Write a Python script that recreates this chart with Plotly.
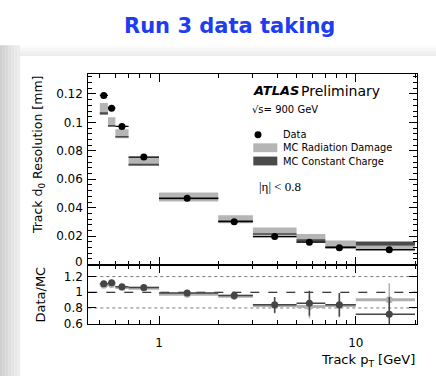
import plotly.graph_objects as go

W, H = 436, 383

# ---------------- data ----------------
bin_lo = [0.5, 0.55, 0.6, 0.7, 1.0, 2.0, 3.0, 5.0, 7.0, 10.0]
bin_hi = [0.55, 0.6, 0.7, 1.0, 2.0, 3.0, 5.0, 7.0, 10.0, 20.0]
pt_center = [0.524, 0.574, 0.648, 0.837, 1.39, 2.41, 3.87, 5.81, 8.25, 14.8]

data_res = [0.119, 0.110, 0.0972, 0.0756, 0.0466, 0.0302, 0.0197, 0.0157, 0.0119, 0.0105]
rd_res = [0.1096, 0.1006, 0.0920, 0.0727, 0.0475, 0.0319, 0.0226, 0.0185, 0.0144, 0.0113]
rd_err = [0.0040, 0.0031, 0.0032, 0.0033, 0.0032, 0.0028, 0.0035, 0.0030, 0.0025, 0.0018]
cc_res = [0.1063, 0.0975, 0.0899, 0.0703, 0.0465, 0.0305, 0.0215, 0.0168, 0.0122, 0.0148]
cc_err = [0.0008, 0.0006, 0.0006, 0.0006, 0.0006, 0.0006, 0.0006, 0.0011, 0.0008, 0.0015]

ratio_cc = [1.11, 1.12, 1.07, 1.06, 0.99, 0.96, 0.84, 0.86, 0.84, 0.72]
ratio_cc_err = [0.01, 0.01, 0.01, 0.01, 0.03, 0.05, 0.10, 0.16, 0.15, 0.22]
ratio_rd = [1.09, 1.10, 1.06, 1.05, 0.975, 0.95, 0.83, 0.82, 0.83, 0.905]
ratio_rd_err = [0.01, 0.01, 0.01, 0.01, 0.03, 0.05, 0.10, 0.15, 0.15, 0.21]

main_yticks = [0.02, 0.04, 0.06, 0.08, 0.1, 0.12]
main_yticklabels = ["0.02", "0.04", "0.06", "0.08", "0.1", "0.12"]
ratio_yticks = [0.6, 0.8, 1.0, 1.2]
ratio_yticklabels = ["0.6", "0.8", "1", "1.2"]
x_major = [1, 10]
x_major_labels = ["1", "10"]
x_minor = [0.5, 0.6, 0.7, 0.8, 0.9, 2, 3, 4, 5, 6, 7, 8, 9, 20]
ratio_dotted = [0.8, 1.2]
ratio_dashed = [1.0]

# ---------------- colours / fonts ----------------
C_RD = "#b5b5b5"
C_CC = "#4a4a4a"
C_RATIO_RD = "#b0b0b0"
C_RATIO_CC = "#454545"
FONT = "DejaVu Sans"


def px_x(x):
    return x / W


def px_y(y):
    return 1 - y / H


def boxes(lo, hi, val, err):
    xs, ys = [], []
    for a, b, v, e in zip(lo, hi, val, err):
        xs += [a, b, b, a, a, None]
        ys += [v - e, v - e, v + e, v + e, v - e, None]
    return xs, ys


fig = go.Figure()

# MC radiation damage boxes
xs, ys = boxes(bin_lo, bin_hi, rd_res, rd_err)
fig.add_trace(go.Scatter(x=xs, y=ys, fill="toself", fillcolor=C_RD, mode="lines",
                         line=dict(width=0, color=C_RD), name="MC Radiation Damage",
                         hoverinfo="skip", xaxis="x", yaxis="y"))
# MC constant charge boxes
xs, ys = boxes(bin_lo, bin_hi, cc_res, cc_err)
fig.add_trace(go.Scatter(x=xs, y=ys, fill="toself", fillcolor=C_CC, mode="lines",
                         line=dict(width=0, color=C_CC), name="MC Constant Charge",
                         hoverinfo="skip", xaxis="x", yaxis="y"))
# Data
fig.add_trace(go.Scatter(
    x=pt_center, y=data_res, mode="markers", name="Data",
    marker=dict(color="black", size=7),
    error_x=dict(type="data", symmetric=False,
                 array=[h - c for h, c in zip(bin_hi, pt_center)],
                 arrayminus=[c - l for c, l in zip(pt_center, bin_lo)],
                 color="black", thickness=1.2, width=0),
    xaxis="x", yaxis="y"))

# Ratio: data / radiation damage (light)
fig.add_trace(go.Scatter(
    x=pt_center, y=ratio_rd, mode="markers", name="Data/RD",
    marker=dict(color=C_RATIO_RD, size=7),
    error_x=dict(type="data", symmetric=False,
                 array=[h - c for h, c in zip(bin_hi, pt_center)],
                 arrayminus=[c - l for c, l in zip(pt_center, bin_lo)],
                 color=C_RATIO_RD, thickness=3, width=0),
    error_y=dict(type="data", array=ratio_rd_err, color=C_RATIO_RD, thickness=1.5, width=0),
    xaxis="x2", yaxis="y2"))
# Ratio: data / constant charge (dark)
fig.add_trace(go.Scatter(
    x=pt_center, y=ratio_cc, mode="markers", name="Data/CC",
    marker=dict(color=C_RATIO_CC, size=7),
    error_x=dict(type="data", symmetric=False,
                 array=[h - c for h, c in zip(bin_hi, pt_center)],
                 arrayminus=[c - l for c, l in zip(pt_center, bin_lo)],
                 color=C_RATIO_CC, thickness=1.5, width=0),
    error_y=dict(type="data", array=ratio_cc_err, color=C_RATIO_CC, thickness=1.5, width=0),
    xaxis="x2", yaxis="y2"))

x_dom = [px_x(88.3), px_x(416.7)]
x_range = [-0.3595, 1.3096]

axis_common = dict(showline=True, linecolor="black", linewidth=1, mirror="ticks",
                   ticks="inside", tickcolor="black", showgrid=False, zeroline=False,
                   tickfont=dict(family=FONT, size=12, color="black"))

fig.update_layout(
    width=W, height=H,
    margin=dict(l=0, r=0, t=0, b=0, pad=0),
    paper_bgcolor="white", plot_bgcolor="white",
    showlegend=False,
    xaxis=dict(type="log", domain=x_dom, range=x_range, anchor="y",
               tickvals=x_major, ticktext=x_major_labels, ticklen=8,
               showticklabels=False,
               minor=dict(tickvals=x_minor, ticks="inside", ticklen=4, tickcolor="black"),
               **axis_common),
    yaxis=dict(domain=[px_y(269.5), px_y(75)], range=[0, 0.1343], anchor="x",
               tickvals=main_yticks, ticktext=main_yticklabels, ticklen=8,
               ticklabelstandoff=2,
               minor=dict(dtick=0.004, tick0=0, ticks="inside", ticklen=4, tickcolor="black"),
               **axis_common),
    xaxis2=dict(type="log", domain=x_dom, range=x_range, anchor="y2", matches="x",
                tickvals=x_major, ticktext=x_major_labels, ticklen=8,
                ticklabelstandoff=8,
                minor=dict(tickvals=x_minor, ticks="inside", ticklen=4, tickcolor="black"),
                **axis_common),
    yaxis2=dict(domain=[px_y(330), px_y(269.5)], range=[0.596, 1.353], anchor="x2",
                tickvals=ratio_yticks, ticktext=ratio_yticklabels, ticklen=8,
                ticklabelstandoff=2,
                **axis_common),
)

shapes = []
# slide background: left gradient strip and top shadow
left_cols = ["#cfcfcf", "#d4d4d4", "#d9d9d9", "#dedede", "#e3e3e3", "#e8e8e8", "#ececec"]
n = len(left_cols)
for i, c in enumerate(left_cols):
    shapes.append(dict(type="rect", xref="paper", yref="paper", layer="below",
                       x0=px_x(20 * i / n), x1=px_x(20 * (i + 1) / n),
                       y0=0, y1=px_y(46), fillcolor=c, line=dict(width=0)))
top_cols = ["#fbfbfb", "#f6f6f6", "#f1f1f1", "#ececec"]
m = len(top_cols)
for i, c in enumerate(top_cols):
    shapes.append(dict(type="rect", xref="paper", yref="paper", layer="below",
                       x0=px_x(20), x1=1,
                       y0=px_y(46 + 11 * (i + 1) / m), y1=px_y(46 + 11 * i / m),
                       fillcolor=c, line=dict(width=0)))
# reference lines in ratio panel
for v in ratio_dotted:
    shapes.append(dict(type="line", xref="x2 domain", yref="y2", x0=0, x1=1, y0=v, y1=v,
                       line=dict(color="#777777", width=1, dash="dot"), layer="below"))
for v in ratio_dashed:
    shapes.append(dict(type="line", xref="x2 domain", yref="y2", x0=0, x1=1, y0=v, y1=v,
                       line=dict(color="black", width=1, dash="dash"), layer="below"))
# legend swatches
shapes.append(dict(type="circle", xref="paper", yref="paper",
                   x0=px_x(258 - 3.5), x1=px_x(258 + 3.5),
                   y0=px_y(137.3 + 3.5), y1=px_y(137.3 - 3.5),
                   fillcolor="black", line=dict(width=0)))
shapes.append(dict(type="rect", xref="paper", yref="paper",
                   x0=px_x(253.3), x1=px_x(277.3), y0=px_y(155), y1=px_y(146),
                   fillcolor=C_RD, line=dict(width=0)))
shapes.append(dict(type="rect", xref="paper", yref="paper",
                   x0=px_x(253.3), x1=px_x(277.3), y0=px_y(168.5), y1=px_y(159.5),
                   fillcolor=C_CC, line=dict(width=0)))
fig.update_layout(shapes=shapes)


def ann(text, x, y, size, xanchor="left", yanchor="middle", family=FONT, color="black",
        angle=0, **kw):
    fig.add_annotation(text=text, x=px_x(x), y=px_y(y), xref="paper", yref="paper",
                       xanchor=xanchor, yanchor=yanchor, showarrow=False, textangle=angle,
                       font=dict(family=family, size=size, color=color, **kw))


ann("Run 3 data taking", 229, 26.7, 21, xanchor="center", color="#1e3cf0", weight="bold")
ann("<b><i>ATLAS</i></b>", 250.7, 92.3, 13)
ann("Preliminary", 299, 92.3, 14)
ann("√s= 900 GeV", 250, 111.5, 10)
ann("Data", 281, 137.3, 9.8)
ann("MC Radiation Damage", 281, 150.7, 9.8)
ann("MC Constant Charge", 281, 164, 9.8)
ann("|η| < 0.8", 257.3, 190, 13, family="Liberation Serif")
ann("Track d<sub>0</sub> Resolution [mm]", 38, 158, 12.5, xanchor="center", angle=-90)
ann("Data/MC", 41, 300, 13, xanchor="center", angle=-90)
ann("Track p<sub>T</sub> [GeV]", 416.7, 367, 13, xanchor="right")
# zero label of the main panel (kept clear of the ratio panel's "1.2")
ann("0", 84.5, 266.5, 12, xanchor="right")

fig.write_html("out.html",
               config={"displayModeBar": False},
               post_script="document.body.style.margin='0';"
                           "document.body.style.overflow='hidden';")
